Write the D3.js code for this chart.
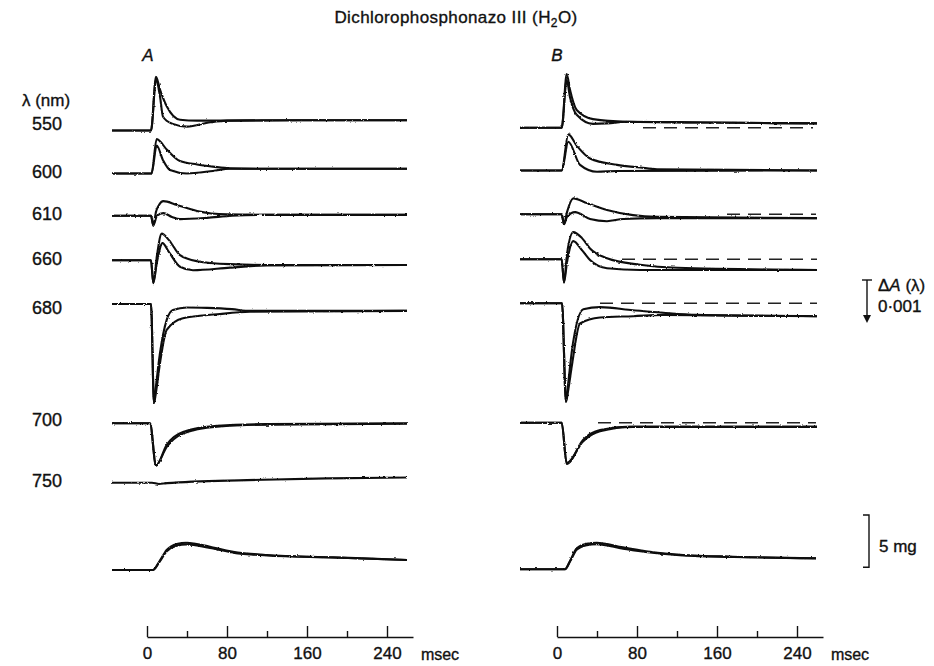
<!DOCTYPE html>
<html>
<head>
<meta charset="utf-8">
<script src="https://cdn.jsdelivr.net/npm/d3@7"></script>
<style>
  body { margin: 0; background: #fff; }
  text { font-family: "Liberation Sans", Arial, sans-serif; fill: #111; stroke: #111; stroke-width: 0.35px; }
  .trace { fill: none; stroke: #111; stroke-width: 2.1; stroke-linejoin: round; }
</style>
</head>
<body>
<script>
// wavelengths (row labels) and time ticks
var lambdas = ["550", "600", "610", "660", "680", "700", "750"];
var msTicks = [0, 80, 160, 240];
var msMinor = [40, 120, 200];

// traces: [time msec, dA in units of 0.001 (down = increase)]
// panel A
var a550Up = [[-35,0],[4,0],[9,-1.25],[13,-0.95],[20,-0.55],[33,-0.25],[50,-0.23],[80,-0.23],[150,-0.24],[260,-0.24]];
var a550Lo = [[-35,0],[4,0],[9,-1.18],[13,-0.79],[16,-0.32],[25,-0.16],[40,-0.09],[63,-0.19],[80,-0.23],[150,-0.24],[260,-0.24]];
var a600Up = [[-35,0],[4.5,0],[9.7,-0.8],[20,-0.55],[33,-0.29],[50,-0.21],[66,-0.16],[83,-0.12],[120,-0.11],[260,-0.11]];
var a600Lo = [[-35,0],[4.5,0],[9.7,-0.65],[16,-0.31],[23,-0.08],[40,0],[66,-0.06],[83,-0.11],[120,-0.11],[260,-0.11]];
var a610Up = [[-35,0],[4,0],[6.3,0.23],[9,-0.09],[12,-0.25],[16.3,-0.34],[30,-0.25],[50,-0.11],[80,-0.03],[120,-0.02],[260,-0.02]];
var a610Lo = [[-35,0],[4,0],[6.3,0.23],[10,0],[16.3,-0.06],[25,0.03],[33,0.08],[60,0.05],[85,0],[120,-0.02],[260,-0.02]];
var a660Up = [[-35,0],[4,0],[6.3,0.53],[10,-0.12],[14.7,-0.62],[22,-0.47],[33,-0.12],[50,0.02],[83,0.09],[120,0.11],[260,0.11]];
var a660Lo = [[-35,0],[4,0],[6.3,0.53],[10,0.04],[15.5,-0.4],[22,-0.19],[33,0.15],[46,0.23],[83,0.17],[120,0.12],[260,0.11]];
var a680Up = [[-35,0],[4,0],[7,2.3],[9,1.9],[13,1.14],[19.7,0.37],[26,0.14],[40,0.08],[60,0.09],[85,0.12],[103,0.16],[260,0.16]];
var a680Lo = [[-35,0],[4,0],[7,2.3],[9,2.05],[13,1.37],[19.7,0.6],[36,0.33],[70,0.24],[103,0.18],[260,0.16]];
var a700Up = [[-35,0],[3,0],[9,0.99],[19.7,0.5],[36,0.2],[70,0.06],[120,0.02],[260,0]];
var a700Lo = [[-35,0],[3,0],[9,0.97],[19.7,0.55],[36,0.24],[70,0.08],[120,0.03],[260,0.01]];
var a750 = [[-35,0],[5,0],[12,0.03],[20,0.01],[100,-0.06],[180,-0.1],[260,-0.12]];
// panel B
var b550Up = [[-37,0],[4.7,0],[9.7,-1.25],[13,-0.88],[19.7,-0.41],[36,-0.2],[70,-0.14],[150,-0.12],[260,-0.1]];
var b550Lo = [[-37,0],[4.7,0],[9.7,-1.11],[13,-0.71],[19.7,-0.3],[36,-0.09],[50,-0.1],[70,-0.14],[150,-0.12],[260,-0.1]];
var b600Up = [[-37,0],[4.7,0],[11.3,-0.84],[20,-0.57],[33,-0.28],[60,-0.13],[83,-0.07],[100,-0.03],[260,0]];
var b600Lo = [[-37,0],[4.7,0],[11.3,-0.67],[23,-0.13],[40,0.03],[60,0.01],[260,0]];
var b610Up = [[-37,0],[4.7,0],[7,0.23],[10,-0.05],[16.3,-0.37],[30,-0.26],[50,-0.1],[76,0.02],[100,0.06],[260,0.09]];
var b610Lo = [[-37,0],[4.7,0],[7,0.23],[10,0.06],[18,-0.05],[33,0.11],[50,0.16],[66,0.11],[100,0.09],[260,0.09]];
var b660Up = [[-37,0],[4.7,0],[7,0.54],[10,-0.12],[16.3,-0.63],[25,-0.49],[33,-0.25],[50,-0.02],[83,0.13],[120,0.2],[260,0.25]];
var b660Lo = [[-37,0],[4.7,0],[7,0.54],[10,0.07],[16.3,-0.42],[25,-0.21],[33,0.02],[50,0.21],[83,0.25],[260,0.25]];
var b680Up = [[-37,0],[5,0],[9,2.29],[11,1.9],[15,1.09],[26.3,0.14],[43,0.09],[76,0.16],[106,0.22],[140,0.27],[260,0.3]];
var b680Lo = [[-37,0],[5,0],[9,2.29],[11,2.05],[15,1.43],[23,0.47],[43,0.33],[76,0.3],[106,0.27],[260,0.3]];
var b700Up = [[-37,0],[4.7,0],[9.7,0.96],[26,0.4],[43,0.17],[76,0.09],[260,0.09]];
var b700Lo = [[-37,0],[4.7,0],[9.7,0.94],[26,0.44],[43,0.2],[76,0.1],[260,0.1]];
// reference (pre-stimulus) levels drawn dashed in B: [row, from msec, to msec]
var dashB = [["550",86,256],["610",170,259],["660",65,260],["680",43,260],["700",41,259]];

// tension, mg
var aForceUp = [[-35,0],[6,0],[12,0.76],[19.7,1.91],[29.7,2.49],[39.7,2.61],[63,2.23],[86,1.75],[120,1.43],[186,1.21],[260,0.96]];
var aForceLo = [[-35,0],[6,0],[12,0.7],[19.7,1.78],[29.7,2.33],[39.7,2.45],[63,2.1],[86,1.66],[120,1.39],[186,1.19],[260,0.95]];
var bForceUp = [[-37,0],[8,0],[13,0.8],[19.7,2.0],[29.7,2.45],[39.7,2.54],[66,2.1],[93,1.68],[126,1.37],[176,1.2],[259,1.05]];
var bForceLo = [[-37,0],[8,0],[13,0.74],[19.7,1.87],[29.7,2.3],[39.7,2.4],[66,1.98],[93,1.6],[126,1.33],[176,1.18],[259,1.04]];

var traces = [
  ["A","550",a550Up],["A","550",a550Lo],["A","600",a600Up],["A","600",a600Lo],
  ["A","610",a610Up],["A","610",a610Lo],["A","660",a660Up],["A","660",a660Lo],
  ["A","680",a680Up],["A","680",a680Lo],["A","700",a700Up],["A","700",a700Lo],["A","750",a750],
  ["B","550",b550Up],["B","550",b550Lo],["B","600",b600Up],["B","600",b600Lo],
  ["B","610",b610Up],["B","610",b610Lo],["B","660",b660Up],["B","660",b660Lo],
  ["B","680",b680Up],["B","680",b680Lo],["B","700",b700Up],["B","700",b700Lo]
];
var forceTraces = [["A",aForceUp],["A",aForceLo],["B",bForceUp],["B",bForceLo]];

// layout
var width = 934, height = 666;
var panels = {
  A: {x0: 147, base: {"550":130.5,"600":173.5,"610":215.7,"660":260.3,"680":304,"700":423.3,"750":482.7,"force":570}},
  B: {x0: 557, base: {"550":127.7,"600":170.5,"610":214.3,"660":259.2,"680":303.3,"700":422.7,"force":569.3}}
};
var labelY = {"550":123,"600":171,"610":213,"660":258,"680":307,"700":419,"750":480};

var svg = d3.select("body").append("svg")
  .attr("width", width).attr("height", height);

// slight roughness like the recorder traces
var filt = svg.append("defs").append("filter").attr("id", "rough")
  .attr("x", "-5%").attr("y", "-20%").attr("width", "110%").attr("height", "140%");
filt.append("feTurbulence").attr("type", "fractalNoise").attr("baseFrequency", "0.35 0.9")
  .attr("numOctaves", 2).attr("seed", 3).attr("result", "n");
filt.append("feDisplacementMap").attr("in", "SourceGraphic").attr("in2", "n")
  .attr("scale", 2.2).attr("xChannelSelector", "R").attr("yChannelSelector", "G");

// 0.001 absorbance = 43 px, increase plotted downward
var dA = d3.scaleLinear().domain([0, 1]).range([0, 43]);
// 5 mg = 52.3 px, upward
var mg = d3.scaleLinear().domain([0, 5]).range([0, -52.3]);

function xScale(p) {
  return d3.scaleLinear().domain([0, 240]).range([panels[p].x0, panels[p].x0 + 240]);
}

var traceG = svg.append("g").attr("filter", "url(#rough)");

traces.forEach(function(tr) {
  var x = xScale(tr[0]), b = panels[tr[0]].base[tr[1]];
  var line = d3.line()
    .x(function(d) { return x(d[0]); })
    .y(function(d) { return b + dA(d[1]); })
    .curve(d3.curveMonotoneX);
  traceG.append("path").attr("class", "trace").attr("d", line(tr[2]));
});

forceTraces.forEach(function(tr) {
  var x = xScale(tr[0]), b = panels[tr[0]].base.force;
  var line = d3.line()
    .x(function(d) { return x(d[0]); })
    .y(function(d) { return b + mg(d[1]); })
    .curve(d3.curveMonotoneX);
  traceG.append("path").attr("class", "trace").attr("d", line(tr[1]));
});

dashB.forEach(function(d) {
  var x = xScale("B"), b = panels.B.base[d[0]];
  svg.append("line")
    .attr("x1", x(d[1])).attr("x2", x(d[2]))
    .attr("y1", b).attr("y2", b)
    .attr("stroke", "#222").attr("stroke-width", 1.6)
    .attr("stroke-dasharray", "13,8");
});

// time axes
["A", "B"].forEach(function(p) {
  var x0 = panels[p].x0;
  var ax = d3.scaleLinear().domain([0, 266]).range([x0, x0 + 266]);
  var g = svg.append("g").attr("transform", "translate(0,637)");
  g.call(d3.axisBottom(ax).tickValues(msTicks).tickSizeInner(-11).tickSizeOuter(0).tickPadding(10));
  g.append("g").call(d3.axisBottom(ax).tickValues(msMinor).tickSizeInner(-6).tickSizeOuter(0).tickFormat(""))
    .select(".domain").remove();
  g.selectAll("line, path").attr("stroke", "#111").attr("stroke-width", 1.4);
  g.selectAll("text").style("font-size", "17px").style("font-family", "Liberation Sans, Arial, sans-serif")
    .attr("fill", "#111").attr("stroke", "#111").attr("stroke-width", 0.35);
  svg.append("text").attr("x", x0 + 293).attr("y", 660).attr("text-anchor", "middle")
    .style("font-size", "16px").text("msec");
});

// row labels
svg.append("text").attr("x", 46).attr("y", 106).attr("text-anchor", "middle")
  .style("font-size", "17px").text("λ (nm)");
lambdas.forEach(function(l) {
  svg.append("text").attr("x", 47).attr("y", labelY[l] + 7).attr("text-anchor", "middle")
    .style("font-size", "18px").text(l);
});

// titles
var title = svg.append("text").attr("x", 456).attr("y", 23).attr("text-anchor", "middle")
  .style("font-size", "17px").style("letter-spacing", "0.4px");
title.append("tspan").text("Dichlorophosphonazo III (H");
title.append("tspan").attr("dy", 4).style("font-size", "12px").text("2");
title.append("tspan").attr("dy", -4).text("O)");

svg.append("text").attr("x", 148).attr("y", 61).attr("text-anchor", "middle")
  .style("font-size", "17px").style("font-style", "italic").text("A");
svg.append("text").attr("x", 557).attr("y", 61).attr("text-anchor", "middle")
  .style("font-size", "17px").style("font-style", "italic").text("B");

// absorbance scale bar: 0.001, arrow down
var sb = svg.append("g").attr("transform", "translate(867,280)");
sb.append("line").attr("x1", -5).attr("x2", 5).attr("y1", 0).attr("y2", 0).attr("stroke", "#111").attr("stroke-width", 1.4);
sb.append("line").attr("x1", 0).attr("x2", 0).attr("y1", 0).attr("y2", dA(1) - 2).attr("stroke", "#111").attr("stroke-width", 1.4);
sb.append("path").attr("d", "M-4," + (dA(1) - 8) + "L0," + dA(1) + "L4," + (dA(1) - 8) + "Z").attr("fill", "#111");
var lab = svg.append("text").attr("x", 878).attr("y", 291).style("font-size", "17px");
lab.append("tspan").text("Δ");
lab.append("tspan").style("font-style", "italic").text("A");
lab.append("tspan").text(" (λ)");
svg.append("text").attr("x", 878).attr("y", 312).style("font-size", "17px").text("0·001");

// tension scale bar: 5 mg
var tb = svg.append("g").attr("transform", "translate(869,567.3)");
tb.append("path").attr("d", "M-6,0H0V" + mg(5) + "H-6").attr("fill", "none").attr("stroke", "#111").attr("stroke-width", 1.4);
svg.append("text").attr("x", 879).attr("y", 552).style("font-size", "17px").text("5 mg");
</script>
</body>
</html>
